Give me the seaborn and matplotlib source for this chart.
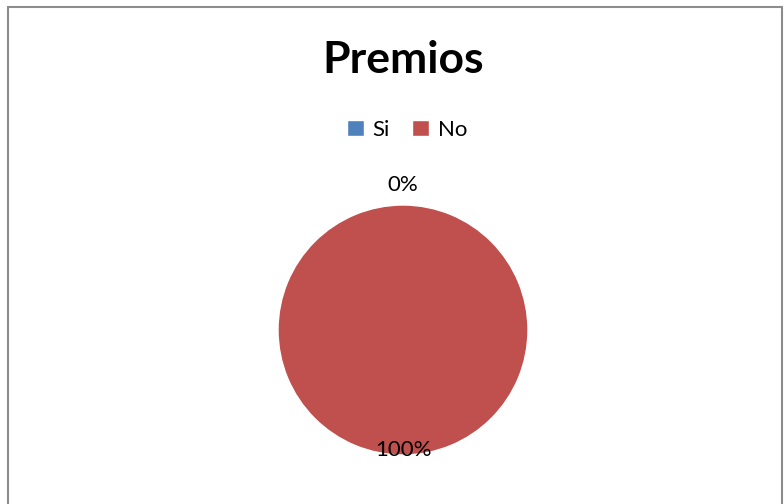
import matplotlib
matplotlib.use("Agg")
import matplotlib.pyplot as plt
import seaborn as sns
from matplotlib.patches import Rectangle

categories = ["Si", "No"]
values = [0, 100]
colors = ["#4F81BD", "#C0504D"]

sns.set_theme(style="white")
plt.rcParams["font.family"] = ["Lato", "DejaVu Sans"]
plt.rcParams["text.color"] = "black"

fig = plt.figure(figsize=(7.84, 5.04), dpi=100)

# outer chart border
fig.patches.append(Rectangle((8 / 784, -0.01), 774 / 784, 1 - 7 / 504 + 0.01,
                             transform=fig.transFigure, fill=False,
                             edgecolor="#8c8c8c", linewidth=1.5))

ax = fig.add_axes([(403 - 125) / 784, (504 - 455) / 504, 250 / 784, 250 / 504])
wedges, texts, autotexts = ax.pie(values, colors=colors, startangle=90,
                                  counterclock=False, autopct="%1.0f%%",
                                  pctdistance=0.96,
                                  textprops=dict(fontsize=16, color="black"))
# the zero slice label sits outside the pie, like Excel does
x, y = autotexts[0].get_position()
autotexts[0].set_position((x * 1.16 / 0.96, y * 1.16 / 0.96))
ax.set_xlim(-1, 1)
ax.set_ylim(-1, 1)
ax.set_aspect("equal")
ax.axis("off")

fig.text(403 / 784, 1 - 60 / 504, "Premios", ha="center", va="center",
         fontsize=32, fontweight="bold", color="black")

handles = [Rectangle((0, 0), 1, 1, facecolor=c) for c in colors]
fig.legend(handles, categories, loc="center", bbox_to_anchor=(407 / 784, 1 - 130 / 504),
           ncol=2, frameon=False, fontsize=16, handlelength=0.75, handleheight=0.75,
           handletextpad=0.4, columnspacing=1.0)

fig.savefig("out.png", dpi=100)
